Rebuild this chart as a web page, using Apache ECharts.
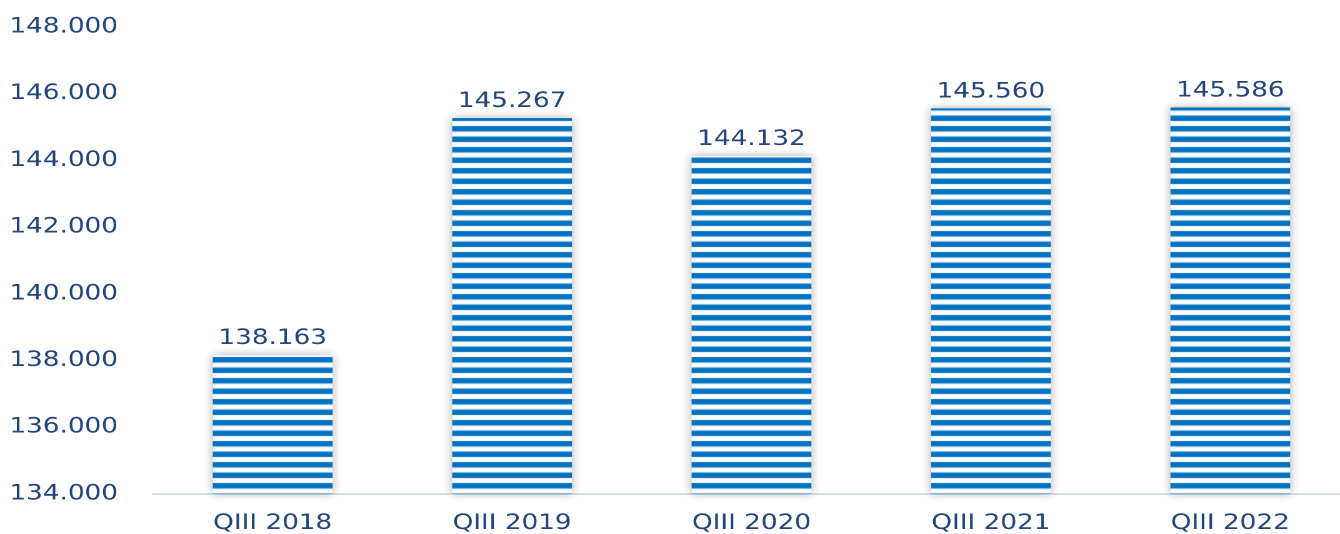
<!DOCTYPE html>
<html>
<head>
<meta charset="utf-8">
<script src="https://cdn.jsdelivr.net/npm/echarts@6/dist/echarts.min.js"></script>
<style>
html,body{margin:0;padding:0;background:#fff;overflow:hidden;}
#wrap{width:1340px;height:534px;overflow:hidden;}
#chart{width:1080px;height:534px;transform:scaleX(1.25);transform-origin:0 0;}
</style>
</head>
<body>
<div id="wrap"><div id="chart"></div></div>
<script>
const categories = ['QIII 2018', 'QIII 2019', 'QIII 2020', 'QIII 2021', 'QIII 2022'];
const values = [138163, 145267, 144132, 145560, 145586];

function fmt(v) {
  return String(Math.round(v)).replace(/\B(?=(\d{3})+(?!\d))/g, '.');
}

const pc = document.createElement('canvas');
pc.width = 8; pc.height = 21;
const ctx = pc.getContext('2d');
ctx.fillStyle = '#ffffff';
ctx.fillRect(0, 0, 8, 21);
ctx.fillStyle = '#0070C0';
ctx.fillRect(0, 0, 8, 5.5);
ctx.fillRect(0, 10.5, 8, 5.5);

const textColor = '#23467a';
const chart = echarts.init(document.getElementById('chart'), null, {renderer: 'canvas', devicePixelRatio: 2});
chart.setOption({
  animation: false,
  grid: {left: 122.4, right: 0, top: 27, bottom: 40},
  xAxis: {
    type: 'category',
    data: categories,
    axisLine: {lineStyle: {color: '#d5e1f0', width: 2}},
    axisTick: {show: false},
    axisLabel: {color: textColor, fontSize: 21, fontFamily: 'DejaVu Sans', margin: 19}
  },
  yAxis: {
    type: 'value',
    min: 134000, max: 148000, interval: 2000,
    axisLine: {show: false},
    axisTick: {show: false},
    splitLine: {show: false},
    axisLabel: {color: textColor, fontSize: 21, fontFamily: 'DejaVu Sans', margin: 28, formatter: fmt}
  },
  series: [{
    type: 'bar',
    data: values,
    barWidth: '50%',
    itemStyle: {
      color: {image: pc, repeat: 'repeat'},
      shadowColor: 'rgba(0,0,0,0.32)',
      shadowBlur: 8
    },
    label: {
      show: true, position: 'top', distance: 6,
      color: textColor, fontSize: 21, fontFamily: 'DejaVu Sans',
      formatter: p => fmt(p.value)
    }
  }]
});
</script>
</body>
</html>
